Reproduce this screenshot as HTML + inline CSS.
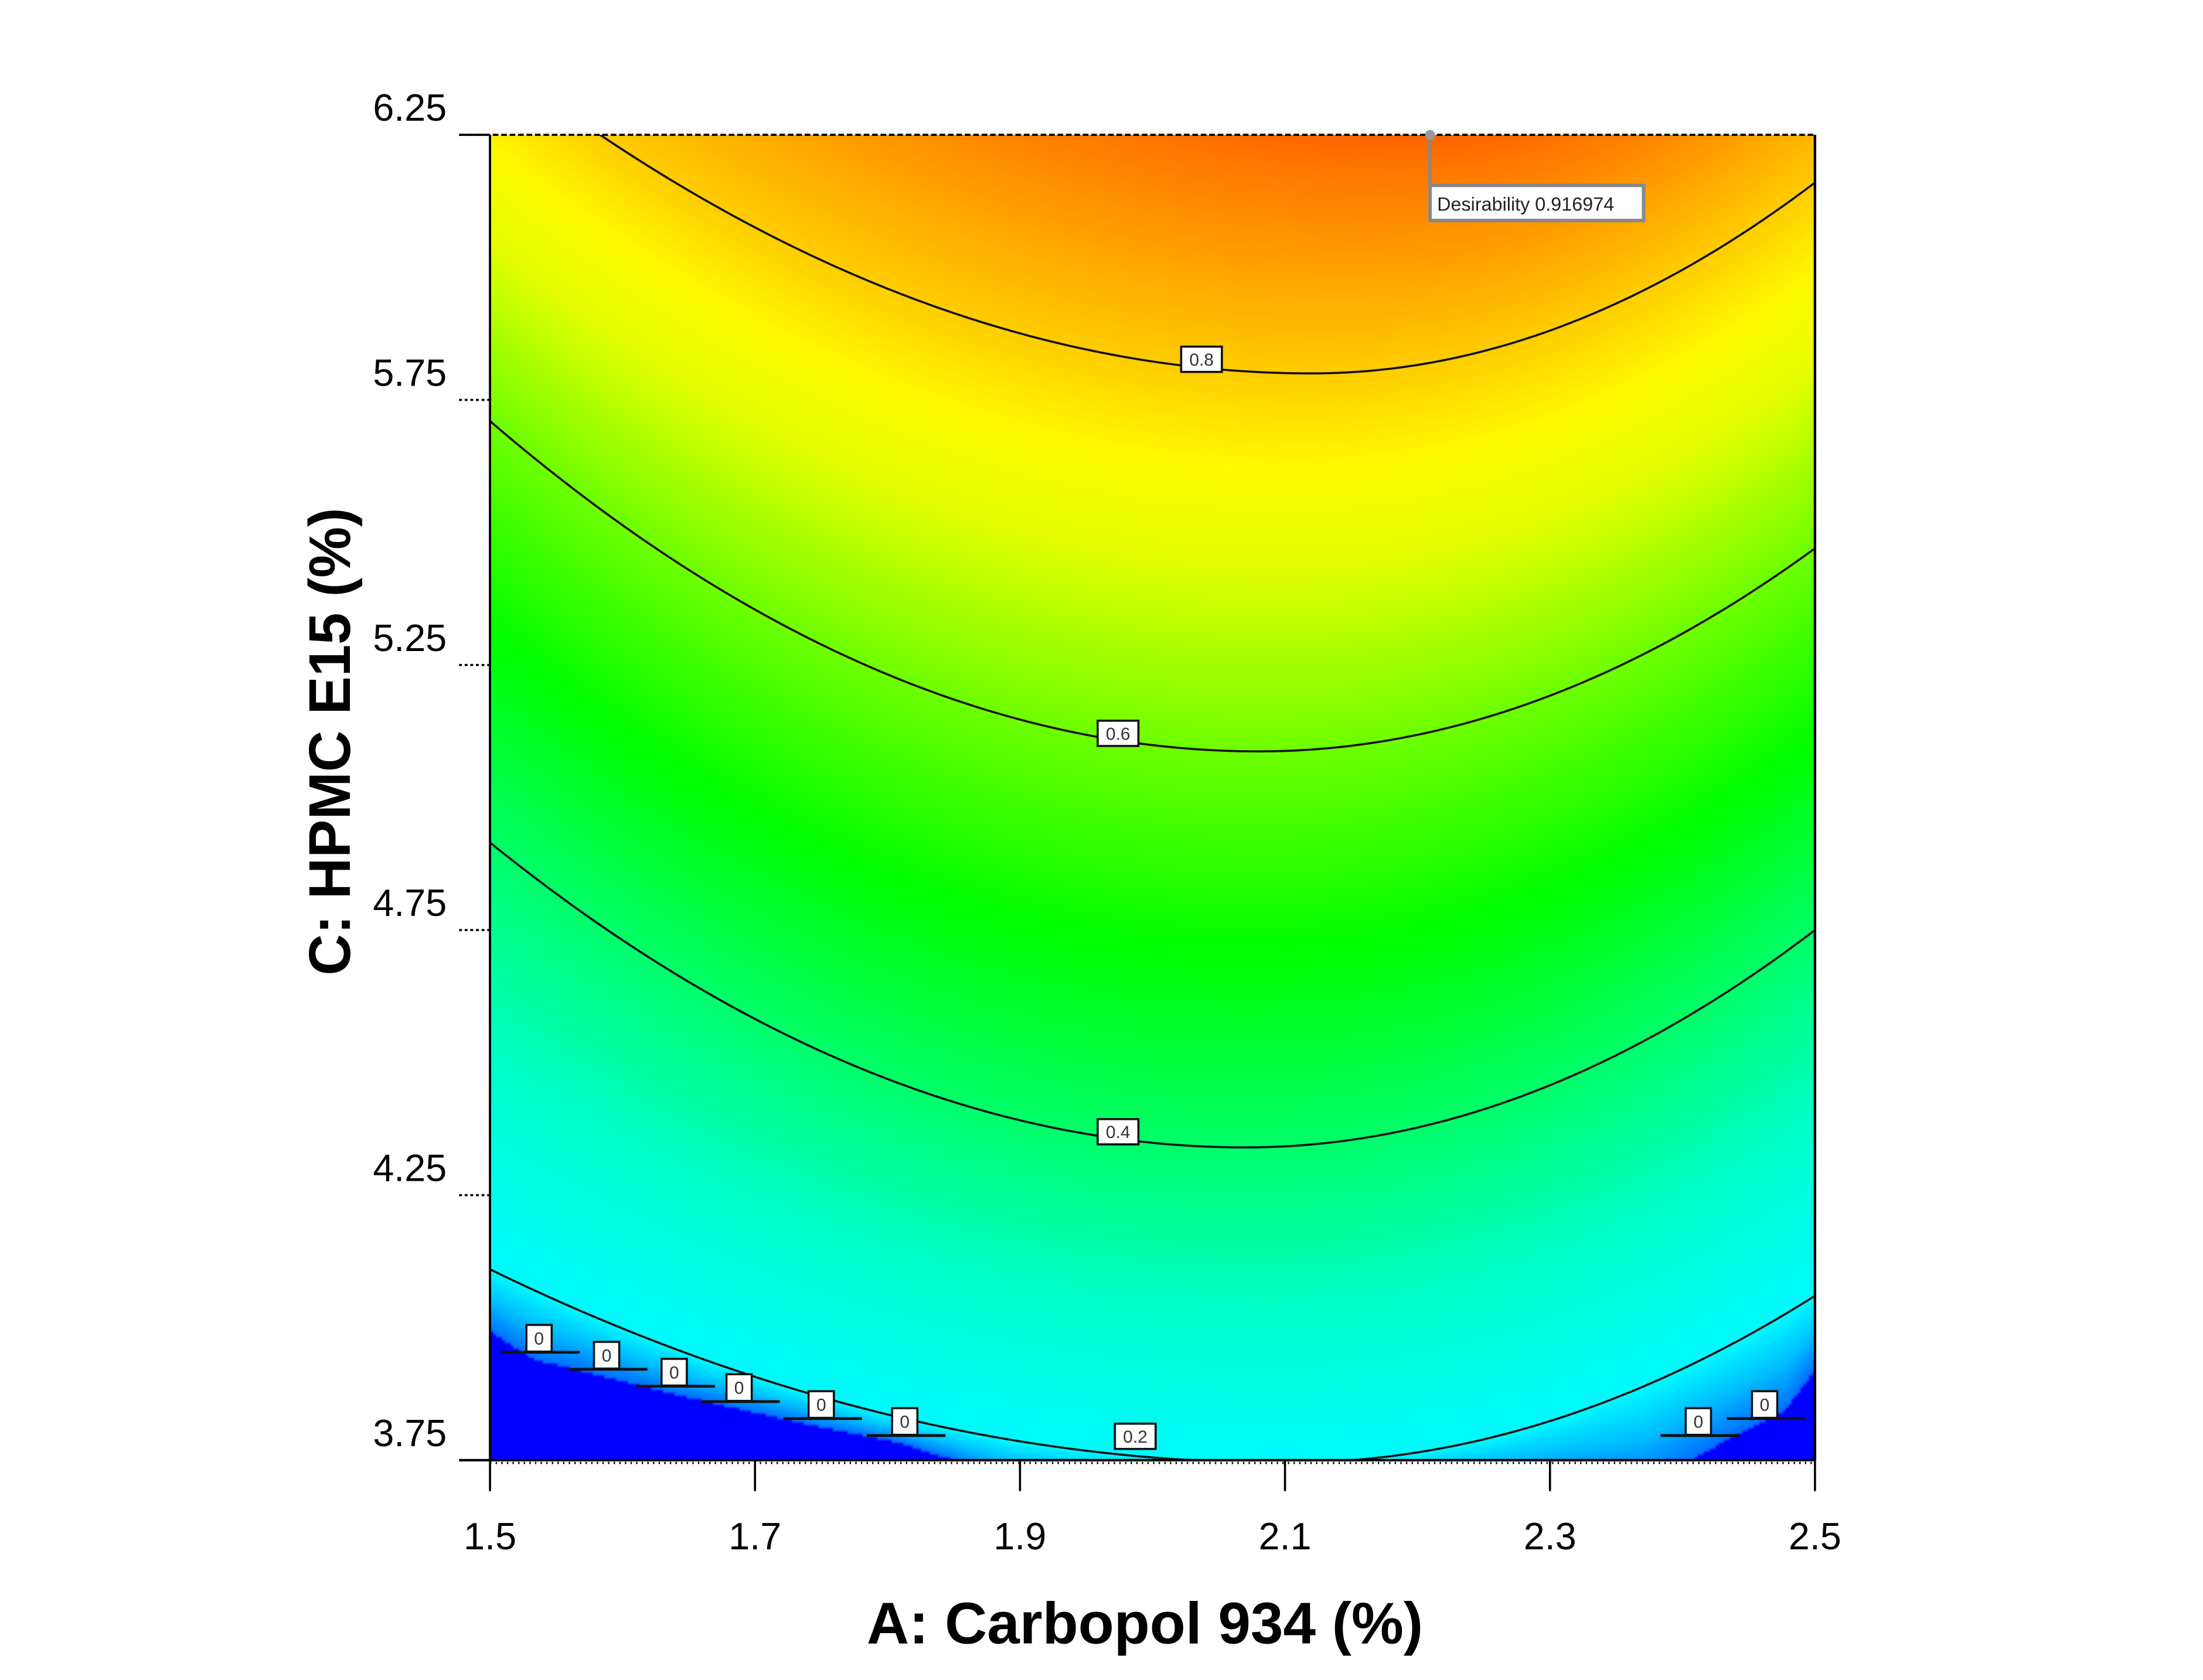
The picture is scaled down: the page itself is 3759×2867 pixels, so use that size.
<!DOCTYPE html>
<html><head><meta charset="utf-8"><style>
html,body{margin:0;padding:0;background:#fff;}
#wrap{position:relative;width:3759px;height:2867px;overflow:hidden;background:#fff;}
#field{position:absolute;left:836px;top:230px;width:2261px;height:2262px;}
#ov{position:absolute;left:0;top:0;}
</style></head><body>
<div id="wrap">
<canvas id="field" width="452" height="452"></canvas>
<svg id="ov" width="3759" height="2867" viewBox="0 0 1568.2 1196.1">
<defs><clipPath id="pc"><rect x="348.8" y="96" width="943.2" height="943.6"/></clipPath></defs>
<g id="contours" clip-path="url(#pc)"></g>
<g id="labels"></g>
<g id="axes"></g>
<g>
<line x1="1018" y1="96" x2="1018" y2="132" stroke="#888" stroke-width="2.5"/>
<circle cx="1018" cy="96" r="3.5" fill="#999"/>
<rect x="1018" y="132" width="152" height="25" fill="#fff" stroke="#888" stroke-width="2.5"/>
<text x="1023" y="150" font-family="Liberation Sans, sans-serif" font-size="13.5" fill="#222">Desirability  0.916974</text>
</g>
<text x="815" y="1170" text-anchor="middle" font-family="Liberation Sans, sans-serif" font-weight="bold" font-size="42" textLength="396" lengthAdjust="spacingAndGlyphs">A: Carbopol 934 (%)</text>
<text transform="translate(249,528) rotate(-90)" text-anchor="middle" font-family="Liberation Sans, sans-serif" font-weight="bold" font-size="42" textLength="333" lengthAdjust="spacingAndGlyphs">C: HPMC E15 (%)</text>
</svg>
</div>
<script>
// contour data (A = Carbopol %, C = HPMC %)
const levels = [0.2, 0.4, 0.6, 0.8, 0.92];
const leftC  = [4.11, 4.915, 5.71, 6.40, 7.0];
const minX   = [2.10, 2.07, 2.08, 2.12, 2.2];
const minC   = [3.745, 4.34, 5.087, 5.80, 6.25];
const rightC = [4.06, 4.75, 5.47, 6.16, 6.6];
const zeroA = [1.5, 1.533, 1.586, 1.637, 1.687, 1.745, 1.809, 1.851, 1.9, 2.3, 2.371, 2.434, 2.477, 2.5];
const zeroC = [3.993, 3.940, 3.908, 3.876, 3.847, 3.815, 3.783, 3.749, 3.70, 3.70, 3.70, 3.789, 3.842, 3.921];
const drawnLevels = ['0.2','0.4','0.6','0.8'];
const labelA = [1.987, 1.974, 1.974, 2.037];
const labelDy = [-14, -5, -5, -6];
const zeroLabelA = [1.537, 1.588, 1.639, 1.688, 1.75, 1.813, 2.412, 2.462];
const zeroLabelC = [3.98, 3.948, 3.916, 3.887, 3.855, 3.823, 3.823, 3.855];
const xTicks = [1.5, 1.7, 1.9, 2.1, 2.3, 2.5];
const xTickLabels = ['1.5','1.7','1.9','2.1','2.3','2.5'];
const yTicks = [3.75, 4.25, 4.75, 5.25, 5.75, 6.25];
const yTickLabels = ['3.75','4.25','4.75','5.25','5.75','6.25'];

const X0=348.8, X1=1292, Y0=96, Y1=1039.6;
const sx = a => X0 + (a-1.5)/(2.5-1.5)*(X1-X0);
const sy = c => Y1 - (c-3.75)/(6.25-3.75)*(Y1-Y0);
const NS='http://www.w3.org/2000/svg';
function levelC(i,a){
  const m=minX[i];
  if(a<m){const k=(leftC[i]-minC[i])/((1.5-m)*(1.5-m));return minC[i]+k*(a-m)*(a-m);}
  const k=(rightC[i]-minC[i])/((2.5-m)*(2.5-m));return minC[i]+k*(a-m)*(a-m);
}
function zeroAt(a){
  for(let i=0;i<zeroA.length-1;i++){ if(a<=zeroA[i+1]){const t=(a-zeroA[i])/(zeroA[i+1]-zeroA[i]);return zeroC[i]+t*(zeroC[i+1]-zeroC[i]);} }
  return zeroC[zeroC.length-1];
}
function desir(a,c){
  const z=zeroAt(a);
  if(c<z) return -1;
  let pc=z, pd=0;
  for(let i=0;i<levels.length;i++){
    const lc=levelC(i,a);
    if(c<=lc){return pd+(levels[i]-pd)*(c-pc)/(lc-pc);}
    pc=lc; pd=levels[i];
  }
  return levels[levels.length-1];
}
const cstops=[[0,0,110,255],[0.1,0,190,255],[0.2,0,250,255],[0.3,0,255,200],[0.4,0,255,105],[0.5,0,255,0],[0.6,110,255,0],[0.7,230,255,0],[0.75,255,250,0],[0.8,255,205,0],[0.9,255,120,0],[0.93,255,90,0]];
function col(d){
  if(d<0) return [0,0,255];
  for(let i=0;i<cstops.length-1;i++){const a=cstops[i],b=cstops[i+1];
    if(d<=b[0]){const t=(d-a[0])/(b[0]-a[0]);return [a[1]+t*(b[1]-a[1]),a[2]+t*(b[2]-a[2]),a[3]+t*(b[3]-a[3])];}}
  const l=cstops[cstops.length-1];return [l[1],l[2],l[3]];
}
const cv=document.getElementById('field'),ctx=cv.getContext('2d');
const W=cv.width,H=cv.height,img=ctx.createImageData(W,H);
for(let j=0;j<H;j++){const c=6.25-(j+0.5)/H*2.5;
  for(let i=0;i<W;i++){const a=1.5+(i+0.5)/W;const k=col(desir(a,c));const p=(j*W+i)*4;
    img.data[p]=k[0];img.data[p+1]=k[1];img.data[p+2]=k[2];img.data[p+3]=255;}}
ctx.putImageData(img,0,0);

const cg=document.getElementById('contours');
for(let i=0;i<drawnLevels.length;i++){
  let d='';
  for(let s=0;s<=200;s++){const a=1.5+s/200;d+=(s?'L':'M')+sx(a).toFixed(2)+','+sy(levelC(i,a)).toFixed(2);}
  const p=document.createElementNS(NS,'path');
  p.setAttribute('d',d);p.setAttribute('fill','none');p.setAttribute('stroke','#111');p.setAttribute('stroke-width','1.5');
  
  
  cg.appendChild(p);
}
const lg=document.getElementById('labels');
function box(x,y,w,h,t,name){
  const g=document.createElementNS(NS,'g');
  
  
  const r=document.createElementNS(NS,'rect');
  r.setAttribute('x',x-w/2);r.setAttribute('y',y-h/2);r.setAttribute('width',w);r.setAttribute('height',h);
  r.setAttribute('fill','#fff');r.setAttribute('stroke','#111');r.setAttribute('stroke-width','1.5');
  const tx=document.createElementNS(NS,'text');
  tx.setAttribute('x',x);tx.setAttribute('y',y+4.5);tx.setAttribute('text-anchor','middle');
  tx.setAttribute('font-family','Liberation Sans, sans-serif');tx.setAttribute('font-size','12.5');tx.setAttribute('fill','#333');
  tx.textContent=t;g.appendChild(r);g.appendChild(tx);lg.appendChild(g);
}
for(let i=0;i<drawnLevels.length;i++){
  box(sx(labelA[i]),sy(levelC(i,labelA[i]))+labelDy[i],29,18,drawnLevels[i],'contour-label-'+drawnLevels[i]);
}
for(let i=0;i<zeroLabelA.length;i++){
  const x=sx(zeroLabelA[i]),y=sy(zeroLabelC[i]);
  const ln=document.createElementNS(NS,'line');
  ln.setAttribute('x1',x-27);ln.setAttribute('x2',x+29);ln.setAttribute('y1',y+10);ln.setAttribute('y2',y+10);
  ln.setAttribute('stroke','#111');ln.setAttribute('stroke-width','2');
  
  
  lg.appendChild(ln);
  box(x,y,18,19,'0','zero-label');
}
const ag=document.getElementById('axes');
function line(x1,y1,x2,y2,w,dash,name){
  const l=document.createElementNS(NS,'line');
  l.setAttribute('x1',x1);l.setAttribute('y1',y1);l.setAttribute('x2',x2);l.setAttribute('y2',y2);
  l.setAttribute('stroke','#000');l.setAttribute('stroke-width',w);if(dash)l.setAttribute('stroke-dasharray',dash);
  
  
  ag.appendChild(l);
}
line(X0,Y0,X0,Y1,1.6,null,'y-axis-line');
line(X0-22,Y1,X1,Y1,1.8,null,'x-axis-line');
line(X1,Y0,X1,Y1,1.8,null,'right-border');
line(X0-22,Y0,X1,Y0,1.5,'4,2','top-border');
line(X0,Y1+2,X1,Y1+2,1.5,'1,3','x-minor-ticks');
function txt(x,y,t,anchor,name){
  const e=document.createElementNS(NS,'text');
  e.setAttribute('x',x);e.setAttribute('y',y);e.setAttribute('text-anchor',anchor);
  e.setAttribute('font-family','Liberation Sans, sans-serif');e.setAttribute('font-size','27');
  e.textContent=t;
  
  
  ag.appendChild(e);
}
for(let i=0;i<xTicks.length;i++){
  const x=sx(xTicks[i]);line(x,Y1,x,Y1+22,1.5,null,'x-tick');
  txt(x,1103,xTickLabels[i],'middle','x-tick-label');
}
for(let i=0;i<yTicks.length;i++){
  const y=sy(yTicks[i]);line(X0-22,y,X0,y,1.5,i===0||i===5?null:'2,2','y-tick');
  txt(318,y-10,yTickLabels[i],'end','y-tick-label');
}
</script>
</body></html>
